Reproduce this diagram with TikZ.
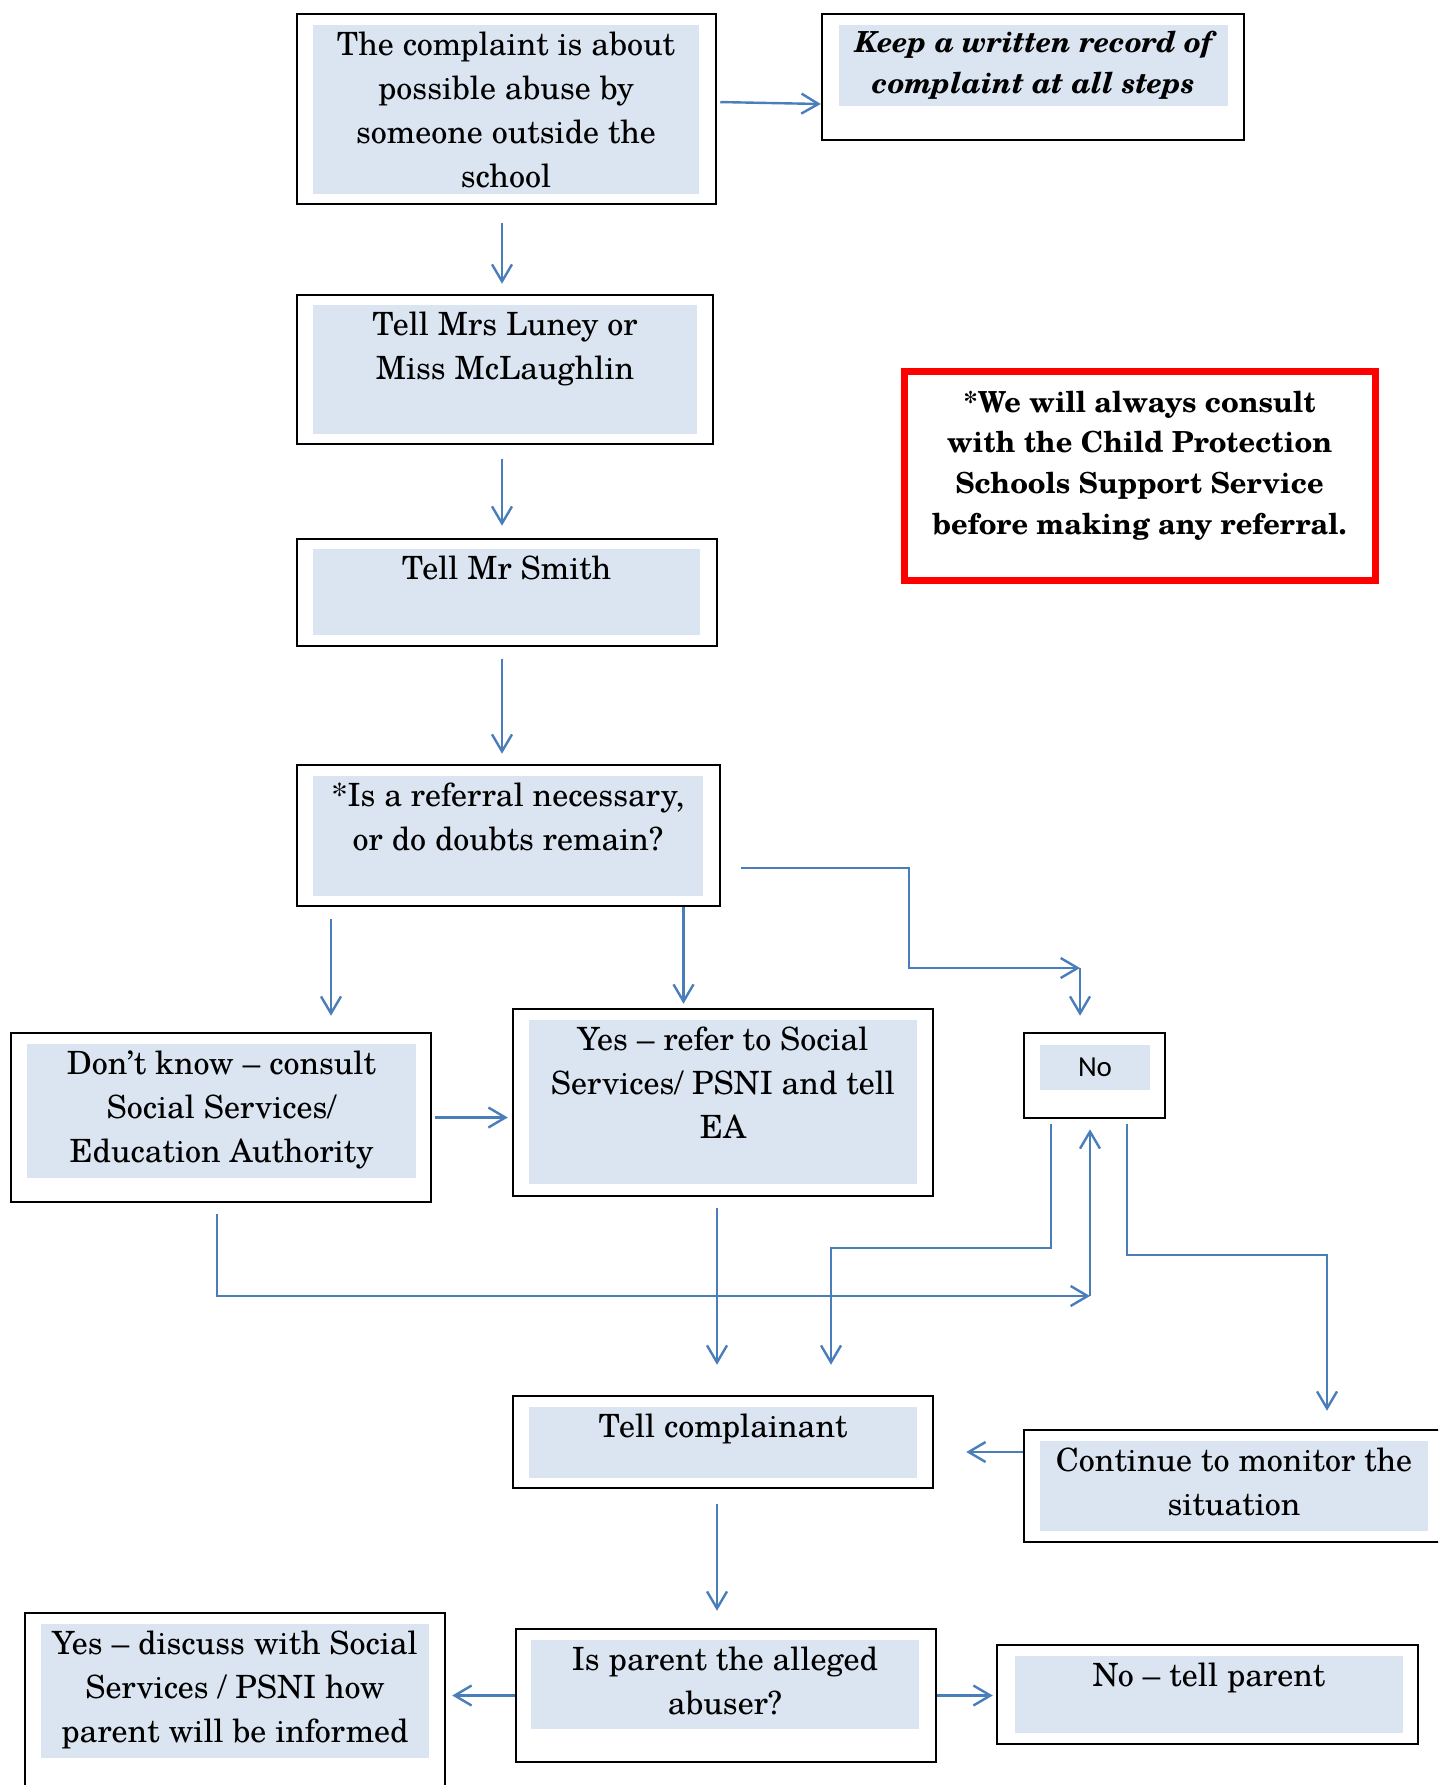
\documentclass[tikz,border=0pt]{standalone}
\usepackage{fontspec}
\setmainfont{texgyreschola}[Extension=.otf, UprightFont=*-regular, BoldFont=*-bold, ItalicFont=*-italic, BoldItalicFont=*-bolditalic]
\newfontfamily\nofont{Carlito}
\usetikzlibrary{arrows.meta}
\definecolor{lineblue}{HTML}{4A7EBB}
\definecolor{boxfill}{HTML}{DBE5F1}

\begin{document}
\begin{tikzpicture}[x=1pt, y=-1pt,
  boxframe/.style={draw, line width=2.5pt, inner sep=0pt},
  textbg/.style={fill=boxfill, inner sep=0pt},
  txt/.style={anchor=north, align=center, inner sep=0pt, font=\fontsize{32}{44}\selectfont},
  conn/.style={draw=lineblue, line width=2.4pt, -{Straight Barb[length=17pt,width=20pt]}}]
\useasboundingbox (0,0) rectangle (1438,1785);
\clip (0,0) rectangle (1438,1785);

% top of the chart
\node[boxframe, minimum width=419, minimum height=190] (complaint) at (506.5,109) {};
\node[textbg, minimum width=386, minimum height=169] (complaint-in) at (506,109.5) {};
\node[txt] at (complaint-in.north) {\strut The complaint is about\\possible abuse by\\someone outside the\\school};

\node[boxframe, minimum width=422, minimum height=126] (record) at (1033,77) {};
\node[textbg, minimum width=389, minimum height=81] (record-in) at (1033.5,65.5) {};
\node[txt, font=\fontsize{29}{41}\selectfont\bfseries\itshape] at ([yshift=1.5pt]record-in.north) {\strut Keep a written record of\\complaint at all steps};

\node[boxframe, minimum width=416, minimum height=149] (luney) at (505,369.5) {};
\node[textbg, minimum width=384, minimum height=129] (luney-in) at (505,369.5) {};
\node[txt] at (luney-in.north) {\strut Tell Mrs Luney or\\Miss McLaughlin};

\node[boxframe, minimum width=420, minimum height=107] (smith) at (507,592.5) {};
\node[textbg, minimum width=387, minimum height=86] (smith-in) at (506.5,592) {};
\node[txt] at (smith-in.north) {\strut Tell Mr Smith};

\node[boxframe, minimum width=423, minimum height=141] (referral) at (508.5,835.5) {};
\node[textbg, minimum width=390, minimum height=120] (referral-in) at (508,836) {};
\node[txt] at (referral-in.north) {\strut *Is a referral necessary,\\or do doubts remain?};

% note in red
\node[draw=red, line width=7pt, minimum width=471, minimum height=209] (note) at (1139.5,475.5) {};
\node[txt, font=\fontsize{29}{40.7}\selectfont\bfseries] at (1139.5,383.5) {\strut *We will always consult\\with the Child Protection\\Schools Support Service\\before making any referral.};

% the three answers
\node[boxframe, minimum width=420, minimum height=169] (dontknow) at (221,1117.5) {};
\node[textbg, minimum width=389, minimum height=134] (dontknow-in) at (221.5,1111) {};
\node[txt] at (dontknow-in.north) {\strut Don’t know – consult\\Social Services/\\Education Authority};

\node[boxframe, minimum width=420, minimum height=187] (yesrefer) at (723,1102.5) {};
\node[textbg, minimum width=388, minimum height=164] (yesrefer-in) at (723,1102) {};
\node[txt] at (yesrefer-in.north) {\strut Yes – refer to Social\\Services/ PSNI and tell\\EA};

\node[boxframe, minimum width=141, minimum height=85] (no) at (1094.5,1075.5) {};
\node[textbg, minimum width=110, minimum height=45] (no-in) at (1095,1067.5) {};
\node[txt, font=\fontsize{29}{35}\selectfont\nofont] at ([yshift=-6.5pt]no-in.north) {\strut No};

% bottom of the chart
\node[boxframe, minimum width=420, minimum height=92] (tellcomp) at (723,1442) {};
\node[textbg, minimum width=388, minimum height=71] (tellcomp-in) at (723,1442.5) {};
\node[txt] at (tellcomp-in.north) {\strut Tell complainant};

\node[boxframe, minimum width=420, minimum height=112] (continue) at (1234,1486) {};
\node[textbg, minimum width=388, minimum height=90] (continue-in) at (1234,1486) {};
\node[txt] at (continue-in.north) {\strut Continue to monitor the\\situation};

\node[boxframe, minimum width=420, minimum height=133] (isparent) at (726,1695.5) {};
\node[textbg, minimum width=388, minimum height=89] (isparent-in) at (725,1684.5) {};
\node[txt] at (isparent-in.north) {\strut Is parent the alleged\\abuser?};

\node[boxframe, minimum width=421, minimum height=99] (noparent) at (1207.5,1694.5) {};
\node[textbg, minimum width=388, minimum height=77] (noparent-in) at (1209,1694.5) {};
\node[txt] at (noparent-in.north) {\strut No – tell parent};

\node[boxframe, minimum width=420, minimum height=187] (yesdiscuss) at (235,1706.5) {};
\node[textbg, minimum width=388, minimum height=134] (yesdiscuss-in) at (235,1691) {};
\node[txt] at (yesdiscuss-in.north) {\strut Yes – discuss with Social\\Services / PSNI how\\parent will be informed};

\coordinate (nojoin) at (1080,968);
\coordinate (loopjoin) at (1090,1296);

% connectors
\draw[conn, shorten <=3pt] ([yshift=7pt]complaint.east) -- ([yshift=-27pt]record.west);
\draw[conn, shorten <=18pt, shorten >=10pt] ([xshift=-4.5pt]complaint.south) -- ([xshift=-3pt]luney.north);
\draw[conn, shorten <=14pt, shorten >=12pt] ([xshift=-3pt]luney.south) -- ([xshift=-5pt]smith.north);
\draw[conn, shorten <=12pt, shorten >=10pt] ([xshift=-5pt]smith.south) -- ([xshift=-6.5pt]referral.north);
\draw[conn, shorten <=12pt, shorten >=16pt] ([xshift=-177.5pt]referral.south) -- ([xshift=110pt]dontknow.north);
\draw[conn, shorten >=4pt] ([xshift=175pt]referral.south) -- ([xshift=-39.5pt]yesrefer.north);
\draw[conn, shorten <=20pt] ([yshift=-32.5pt]referral.east) -- ++(188,0) |- (nojoin);
\draw[conn, shorten >=16pt] (nojoin) -- (nojoin |- no.north);
\draw[conn, shorten <=3pt, shorten >=4pt] (dontknow.east) -- (dontknow.east -| yesrefer.west);
\draw[conn, shorten <=11pt] ([xshift=-4pt]dontknow.south) |- (loopjoin);
\draw[conn, shorten >=10pt] (loopjoin) -- (loopjoin |- no.south);
\draw[conn, shorten <=11pt, shorten >=30pt] ([xshift=-6pt]yesrefer.south) -- ([xshift=-6pt]tellcomp.north);
\draw[conn, shorten <=5pt, shorten >=30pt] ([xshift=-43.5pt]no.south) -- ++(0,129) -| ([xshift=108pt]tellcomp.north);
\draw[conn, shorten <=5pt, shorten >=18pt] ([xshift=32.5pt]no.south) -- ++(0,136) -| ([xshift=93pt]continue.north);
\draw[conn, shorten >=32pt] ([yshift=34pt]continue.west) -- ([yshift=-10pt]tellcomp.east);
\draw[conn, shorten <=15pt, shorten >=17pt] ([xshift=-6pt]tellcomp.south) -- ([xshift=-9pt]isparent.north);
\draw[conn, shorten >=6pt] (isparent.west) -- (isparent.west -| yesdiscuss.east);
\draw[conn, shorten >=3pt] (isparent.east) -- (isparent.east -| noparent.west);
\end{tikzpicture}
\end{document}
